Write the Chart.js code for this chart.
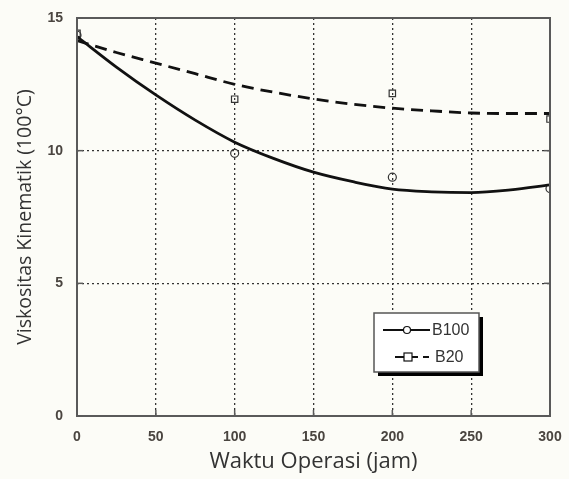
<!DOCTYPE html>
<html>
<head>
<meta charset="utf-8">
<script src="https://cdn.jsdelivr.net/npm/chart.js@4"></script>
<style>
  html, body { margin: 0; padding: 0; background: #fcfcf7; }
  #wrap { width: 569px; height: 479px; }
</style>
</head>
<body>
<div id="wrap"><canvas id="myChart"></canvas></div>
<script>
// measured points
var hours = [0, 100, 200, 300];
var b100 = [14.35, 9.9, 9.0, 8.57];
var b20 = [14.42, 11.94, 12.16, 11.19];

// fitted curves, every 25 jam
var fitHours = [0, 25, 50, 75, 100, 125, 150, 175, 200, 225, 250, 275, 300];
var b100Fit = [14.3, 13.15, 12.1, 11.15, 10.32, 9.7, 9.19, 8.83, 8.55, 8.45, 8.42, 8.52, 8.71];
var b20Fit = [14.15, 13.7, 13.3, 12.9, 12.5, 12.2, 11.95, 11.75, 11.6, 11.5, 11.42, 11.4, 11.4];

var xTicks = [0, 50, 100, 150, 200, 250, 300];
var yTicks = [0, 5, 10, 15];

function pts(xs, ys) {
    return xs.map(function (x, i) { return {x: x, y: ys[i]}; });
}

// frame, inside tick marks and the boxed legend
var framePlugin = {
    id: 'frame',
    afterDraw: function (chart) {
        var c = chart.ctx, a = chart.chartArea;
        var xs = chart.scales.x, ys = chart.scales.y;
        c.save();
        c.strokeStyle = '#5a5a5a';
        c.lineWidth = 2;
        c.strokeRect(a.left, a.top, a.right - a.left, a.bottom - a.top);
        c.lineWidth = 1.5;
        xTicks.forEach(function (t) {
            var px = xs.getPixelForValue(t);
            c.beginPath(); c.moveTo(px, a.bottom); c.lineTo(px, a.bottom - 6); c.stroke();
        });
        yTicks.forEach(function (t) {
            var py = ys.getPixelForValue(t);
            c.beginPath(); c.moveTo(a.left, py); c.lineTo(a.left + 6, py); c.stroke();
            c.beginPath(); c.moveTo(a.right, py); c.lineTo(a.right - 6, py); c.stroke();
        });

        // legend box
        var bx = a.left + 297, by = a.top + 295, bw = 105, bh = 59;
        c.fillStyle = '#000';
        c.fillRect(bx + 4, by + 4, bw, bh);
        c.fillStyle = '#ffffff';
        c.fillRect(bx, by, bw, bh);
        c.strokeStyle = '#555';
        c.lineWidth = 1.5;
        c.strokeRect(bx, by, bw, bh);

        c.strokeStyle = '#111';
        c.lineWidth = 2;
        c.beginPath(); c.moveTo(bx + 9, by + 17); c.lineTo(bx + 56, by + 17); c.stroke();
        c.lineWidth = 1.2;
        c.fillStyle = '#fff';
        c.beginPath(); c.arc(bx + 33, by + 17, 3.5, 0, Math.PI * 2); c.fill(); c.stroke();

        c.lineWidth = 2;
        c.setLineDash([9, 5]);
        c.beginPath(); c.moveTo(bx + 21, by + 44); c.lineTo(bx + 55, by + 44); c.stroke();
        c.setLineDash([]);
        c.lineWidth = 1.2;
        c.fillRect(bx + 30, by + 40, 8, 8);
        c.strokeRect(bx + 30, by + 40, 8, 8);

        c.fillStyle = '#333';
        c.font = '16px "Liberation Sans", Arial, sans-serif';
        c.textBaseline = 'middle';
        c.fillText('B100', bx + 58, by + 18);
        c.fillText('B20', bx + 61, by + 45);
        c.restore();
    }
};

var tickFont = { family: '"Liberation Sans", Arial, sans-serif', size: 14, weight: 'bold' };

var ctx = document.getElementById('myChart');
var myChart = new Chart(ctx, {
    type: 'scatter',
    data: {
        datasets: [{
            label: 'B100 fit',
            type: 'line',
            data: pts(fitHours, b100Fit),
            borderColor: '#111',
            borderWidth: 2.8,
            pointRadius: 0,
            cubicInterpolationMode: 'monotone',
            fill: false
        }, {
            label: 'B20 fit',
            type: 'line',
            data: pts(fitHours, b20Fit),
            borderColor: '#111',
            borderWidth: 2.8,
            borderDash: [12, 7],
            pointRadius: 0,
            cubicInterpolationMode: 'monotone',
            fill: false
        }, {
            label: 'B100',
            data: pts(hours, b100),
            pointStyle: 'circle',
            pointRadius: 4,
            borderColor: '#333',
            borderWidth: 1.2,
            backgroundColor: 'rgba(255,255,255,0)'
        }, {
            label: 'B20',
            data: pts(hours, b20),
            pointStyle: 'rect',
            pointRadius: 4.5,
            borderColor: '#333',
            borderWidth: 1.2,
            backgroundColor: 'rgba(255,255,255,0)'
        }]
    },
    options: {
        responsive: true,
        maintainAspectRatio: false,
        animation: false,
        layout: { padding: { top: 18, right: 19, left: 0, bottom: 0 } },
        plugins: {
            legend: { display: false },
            tooltip: { enabled: false }
        },
        scales: {
            x: {
                type: 'linear',
                min: 0,
                max: 300,
                afterBuildTicks: function (s) { s.ticks = xTicks.map(function (v) { return {value: v}; }); },
                afterFit: function (s) { s.height = 63; s.paddingRight = 0; s.paddingLeft = 0; },
                border: { display: false, dash: [2, 3] },
                grid: { color: '#333', lineWidth: 1.3, drawTicks: false },
                ticks: { padding: 13, color: '#4a4540', font: tickFont },
                title: {
                    display: true,
                    text: 'Waktu Operasi (jam)',
                    color: '#333',
                    padding: { top: 1 },
                    font: { family: '"Open Sans", sans-serif', size: 22 }
                }
            },
            y: {
                type: 'linear',
                min: 0,
                max: 15,
                afterBuildTicks: function (s) { s.ticks = yTicks.map(function (v) { return {value: v}; }); },
                afterFit: function (s) { s.width = 77; s.paddingTop = 0; s.paddingBottom = 0; },
                border: { display: false, dash: [2, 3] },
                grid: { color: '#333', lineWidth: 1.3, drawTicks: false },
                ticks: { padding: 14, color: '#4a4540', font: tickFont },
                title: {
                    display: true,
                    text: 'Viskositas Kinematik (100°C)',
                    color: '#333',
                    padding: { top: 14, bottom: 2 },
                    font: { family: '"Open Sans", sans-serif', size: 19.5 }
                }
            }
        }
    },
    plugins: [framePlugin]
});
</script>
</body>
</html>
